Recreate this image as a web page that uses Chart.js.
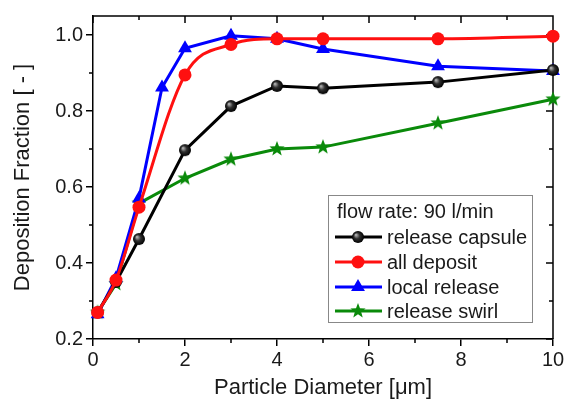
<!DOCTYPE html>
<html>
<head>
<meta charset="utf-8">
<script src="https://cdn.jsdelivr.net/npm/chart.js@4.4.1/dist/chart.umd.min.js"></script>
<style>
  html, body { margin: 0; padding: 0; background: #fff; }
  canvas { display: block; }
</style>
</head>
<body>
<canvas id="c" width="564" height="399"></canvas>
<script>
// particle diameter [um]
const xVals    = [0.1, 0.5, 1, 2, 3, 4, 5, 7.5, 10];
const xLocal   = [0.1, 0.5, 1, 1.5, 2, 3, 4, 5, 7.5, 10];

const capsule    = [0.27, 0.35, 0.463, 0.697, 0.813, 0.866, 0.860, 0.876, 0.908];
const allDeposit = [0.27, 0.355, 0.547, 0.895, 0.975, 0.990, 0.990, 0.990, 0.997];
const localRel   = [0.265, 0.36, 0.570, 0.862, 0.965, 0.998, 0.990, 0.963, 0.918, 0.905];
const swirl      = [0.27, 0.345, 0.557, 0.623, 0.673, 0.700, 0.705, 0.768, 0.831];

const xMajor = [0, 2, 4, 6, 8, 10];
const xMinor = [1, 3, 5, 7, 9];
const yMajor = [0.2, 0.4, 0.6, 0.8, 1.0];
const yMinor = [0.3, 0.5, 0.7, 0.9];

const legendTitle = 'flow rate: 90 l/min';
const FONT = "'Liberation Sans', Arial, sans-serif";

const pts = (xs, ys) => xs.map((x, i) => ({ x, y: ys[i] }));

// shaded black ball marker
function sphere(r) {
  const c = document.createElement('canvas');
  c.width = c.height = r * 2 + 2;
  const g = c.getContext('2d');
  const m = r + 1;
  const grad = g.createRadialGradient(m - r * 0.35, m - r * 0.35, 0.5, m, m, r);
  grad.addColorStop(0, '#b0b0b0');
  grad.addColorStop(0.45, '#303030');
  grad.addColorStop(1, '#000');
  g.fillStyle = grad;
  g.beginPath(); g.arc(m, m, r, 0, Math.PI * 2); g.fill();
  return c;
}

// filled five point star
function star(r, color) {
  const c = document.createElement('canvas');
  c.width = c.height = r * 2 + 2;
  const g = c.getContext('2d');
  const m = r + 1;
  g.beginPath();
  for (let i = 0; i < 10; i++) {
    const rad = i % 2 === 0 ? r : r * 0.42;
    const a = -Math.PI / 2 + i * Math.PI / 5;
    const px = m + rad * Math.cos(a), py = m + rad * Math.sin(a);
    i === 0 ? g.moveTo(px, py) : g.lineTo(px, py);
  }
  g.closePath();
  g.fillStyle = color;
  g.fill();
  return c;
}

const ballImg = sphere(6);
const starImg = star(8, '#0a8a0a');

const frame = {
  id: 'frame',
  beforeDatasetsDraw(chart) {
    const { ctx, chartArea: a, scales: { x, y } } = chart;
    ctx.save();
    ctx.strokeStyle = '#000';
    ctx.lineWidth = 1.5;
    ctx.beginPath();
    ctx.moveTo(a.left, a.top); ctx.lineTo(a.right, a.top); ctx.lineTo(a.right, a.bottom);
    xMajor.forEach(v => { const p = x.getPixelForValue(v); ctx.moveTo(p, a.top); ctx.lineTo(p, a.top + 7); });
    xMinor.forEach(v => {
      const p = x.getPixelForValue(v);
      ctx.moveTo(p, a.top); ctx.lineTo(p, a.top + 4);
      ctx.moveTo(p, a.bottom); ctx.lineTo(p, a.bottom + 4);
    });
    yMajor.forEach(v => { const p = y.getPixelForValue(v); ctx.moveTo(a.right, p); ctx.lineTo(a.right - 7, p); });
    yMinor.forEach(v => {
      const p = y.getPixelForValue(v);
      ctx.moveTo(a.right, p); ctx.lineTo(a.right - 4, p);
      ctx.moveTo(a.left, p); ctx.lineTo(a.left - 4, p);
    });
    ctx.stroke();
    ctx.restore();
  }
};

const boxLegend = {
  id: 'boxLegend',
  afterDraw(chart) {
    const ctx = chart.ctx;
    const L = 328, T = 195, W = 204, H = 127;
    ctx.save();
    ctx.fillStyle = '#fff';
    ctx.fillRect(L, T, W, H);
    ctx.strokeStyle = '#888';
    ctx.lineWidth = 1;
    ctx.strokeRect(L + 0.5, T + 0.5, W, H);
    ctx.fillStyle = '#1a1a1a';
    ctx.font = '20px ' + FONT;
    ctx.textBaseline = 'middle';
    ctx.fillText(legendTitle, 337, 212);
    const rows = [237, 262, 287, 311];
    chart.data.datasets.forEach((ds, i) => {
      const yy = rows[i];
      ctx.strokeStyle = ds.borderColor;
      ctx.lineWidth = 3;
      ctx.beginPath(); ctx.moveTo(335, yy); ctx.lineTo(382, yy); ctx.stroke();
      ctx.fillStyle = ds.backgroundColor;
      Chart.helpers.drawPoint(ctx, {
        pointStyle: ds.pointStyle, radius: ds.pointRadius, rotation: 0,
        borderWidth: 0
      }, 358, yy);
      ctx.fillStyle = '#1a1a1a';
      ctx.fillText(ds.label, 387, yy + 1);
    });
    ctx.restore();
  }
};

const tickFont = { family: FONT, size: 20 };

// keep tick label overhang from shrinking the plot area
function noPad(s) {
  s.paddingLeft = 0; s.paddingRight = 0; s.paddingTop = 0; s.paddingBottom = 0;
  s.getPadding = () => ({ left: 0, top: 0, right: 0, bottom: 0 });
}

new Chart(document.getElementById('c'), {
  type: 'line',
  data: {
    datasets: [
      {
        label: 'release capsule', data: pts(xVals, capsule), order: 2,
        borderColor: '#000', borderWidth: 3, pointStyle: ballImg, pointRadius: 6,
        backgroundColor: '#000'
      },
      {
        label: 'all deposit', data: pts(xVals, allDeposit), order: 0,
        borderColor: '#ff1010', backgroundColor: '#ff1010', borderWidth: 3,
        pointStyle: 'circle', pointRadius: 6.5, pointBorderWidth: 0,
        cubicInterpolationMode: 'monotone'
      },
      {
        label: 'local release', data: pts(xLocal, localRel), order: 3,
        borderColor: '#0000ff', backgroundColor: '#0000ff', borderWidth: 3,
        pointStyle: 'triangle', pointRadius: 8, pointBorderWidth: 0
      },
      {
        label: 'release swirl', data: pts(xVals, swirl), order: 4,
        borderColor: '#0a8a0a', backgroundColor: '#0a8a0a', borderWidth: 3,
        pointStyle: starImg, pointRadius: 8
      }
    ]
  },
  options: {
    responsive: false,
    animation: false,
    clip: false,
    layout: { padding: { top: 16, right: 3, left: 0, bottom: 0 } },
    plugins: { legend: { display: false }, tooltip: { enabled: false } },
    scales: {
      x: {
        type: 'linear', min: 0, max: 10,
        afterBuildTicks: s => { s.ticks = xMajor.map(v => ({ value: v })); },
        afterFit: s => { s.height = 60; noPad(s); },
        ticks: { color: '#1a1a1a', font: tickFont, padding: 2, maxRotation: 0 },
        grid: { drawOnChartArea: false, drawTicks: true, tickLength: 7, color: '#000', lineWidth: 1.5 },
        border: { display: true, color: '#000', width: 1.5 },
        title: {
          display: true, text: 'Particle Diameter [\u03bcm]', color: '#1a1a1a',
          font: { family: FONT, size: 22, lineHeight: 1 }, padding: { top: 0, bottom: 0 }
        }
      },
      y: {
        type: 'linear', min: 0.2, max: 1.05,
        afterBuildTicks: s => { s.ticks = yMajor.map(v => ({ value: v })); },
        afterFit: s => { s.width = 93; noPad(s); },
        ticks: { color: '#1a1a1a', font: tickFont, padding: 3, callback: v => v.toFixed(1) },
        grid: { drawOnChartArea: false, drawTicks: true, tickLength: 7, color: '#000', lineWidth: 1.5 },
        border: { display: true, color: '#000', width: 1.5 },
        title: {
          display: true, text: 'Deposition Fraction [ - ]', color: '#1a1a1a',
          font: { family: FONT, size: 22, lineHeight: 1 }, padding: { top: 12, bottom: 0 }
        }
      }
    }
  },
  plugins: [frame, boxLegend]
});
</script>
</body>
</html>
